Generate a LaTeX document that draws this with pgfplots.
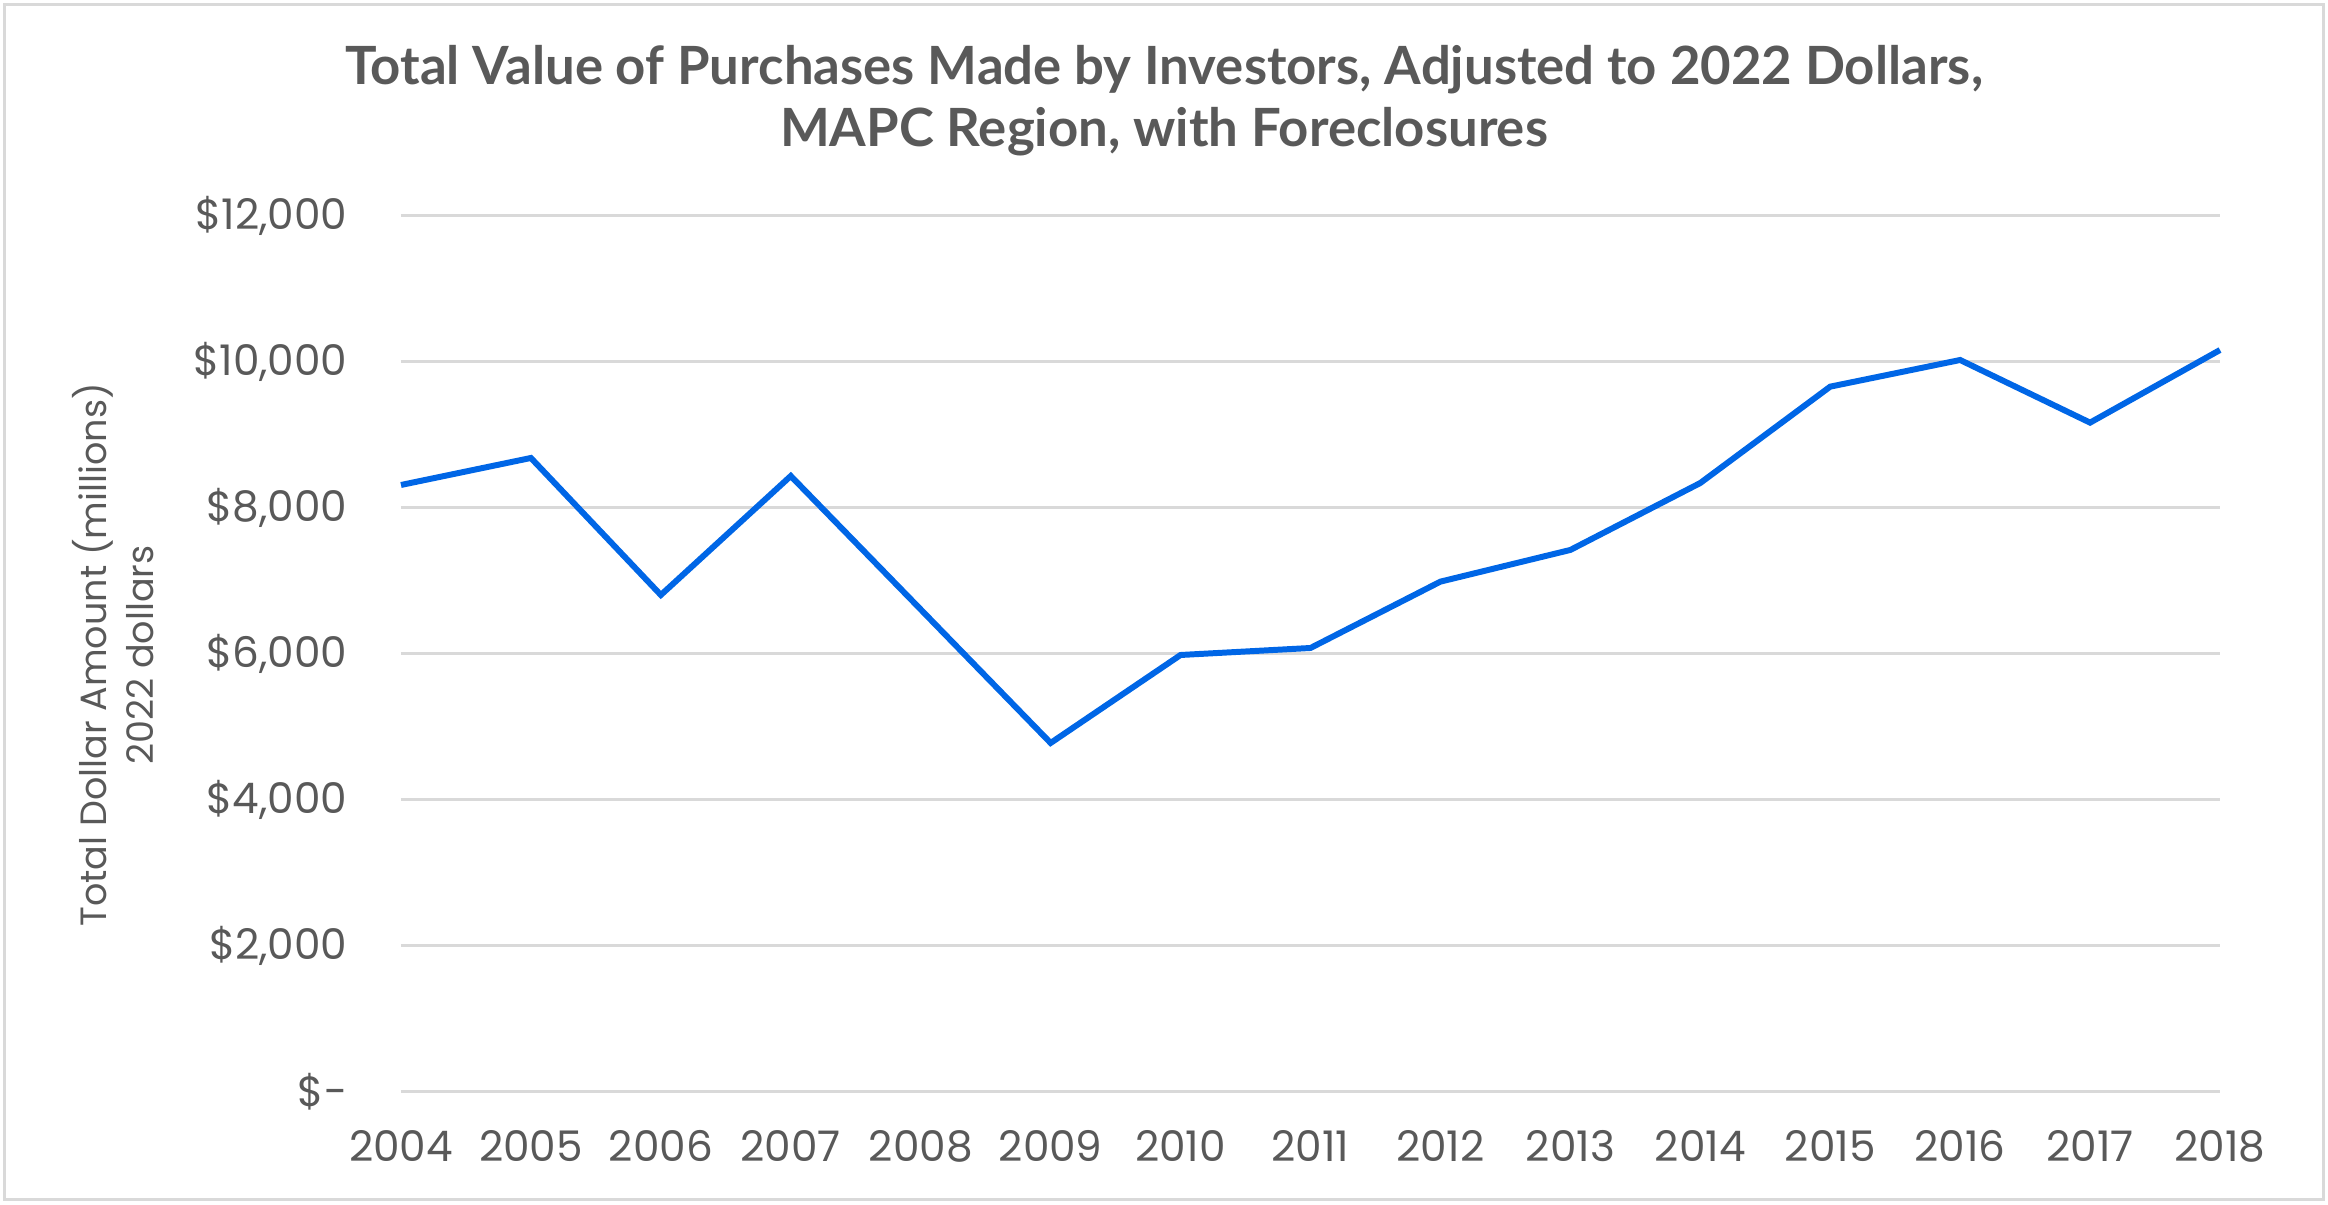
\documentclass[border=0pt]{standalone}
\usepackage{fontspec}
\setmainfont{Poppins}
\newfontfamily\titlefont{Lato}
\usepackage{pgfplots}
\pgfplotsset{compat=1.18}
\definecolor{txt}{HTML}{595959}
\definecolor{gridc}{HTML}{D9D9D9}
\definecolor{lineblue}{HTML}{0066E6}

\begin{document}
\begin{tikzpicture}
\path[use as bounding box] (0,0) rectangle (232.8mm,120.5mm);
\draw[gridc, line width=0.3mm] (0.5mm,0.5mm) rectangle (232.3mm,120.0mm);
\begin{axis}[
    at={(40.1mm,11.3mm)}, anchor=south west,
    scale only axis, width=181.9mm, height=87.6mm,
    xmin=2004, xmax=2018, ymin=0, ymax=12000,
    xtick={2004,2005,2006,2007,2008,2009,2010,2011,2012,2013,2014,2015,2016,2017,2018},
    xticklabels={2004,2005,2006,2007,2008,2009,2010,2011,2012,2013,2014,2015,2016,2017,2018},
    ytick={0,2000,4000,6000,8000,10000,12000},
    yticklabels={{\$-},{\$2,000},{\$4,000},{\$6,000},{\$8,000},{\$10,000},{\$12,000}},
    scaled y ticks=false,
    axis line style={draw=none}, major tick length=0pt,
    ymajorgrids, grid style={gridc, line width=0.85pt},
    tick label style={font=\fontsize{12}{14}\selectfont, text=txt},
    yticklabel style={inner sep=0pt, anchor=east, xshift=-5.3mm},
    xticklabel style={inner sep=0pt, anchor=north, yshift=-3.8mm},
    clip=false,
]
\addplot[lineblue, line width=1.7pt] coordinates {
    (2004,8315) (2005,8685) (2006,6808) (2007,8438) (2008,6610)
    (2009,4781) (2010,5986) (2011,6082) (2012,6991) (2013,7425)
    (2014,8342) (2015,9662) (2016,10027) (2017,9169) (2018,10164)
};
\end{axis}
\node[anchor=base, text=txt, font=\titlefont\bfseries\fontsize{15}{18}\selectfont]
    at (116.4mm,112.0mm) {Total Value of Purchases Made by Investors, Adjusted to 2022 Dollars,};
\node[anchor=base, text=txt, font=\titlefont\bfseries\fontsize{15}{18}\selectfont]
    at (116.4mm,105.8mm) {MAPC Region, with Foreclosures};
\node[rotate=90, align=center, text=txt, font=\fontsize{10.4}{13.6}\selectfont]
    at (11.3mm,55.0mm) {Total Dollar Amount (millions)\\2022 dollars};
\end{tikzpicture}
\end{document}
